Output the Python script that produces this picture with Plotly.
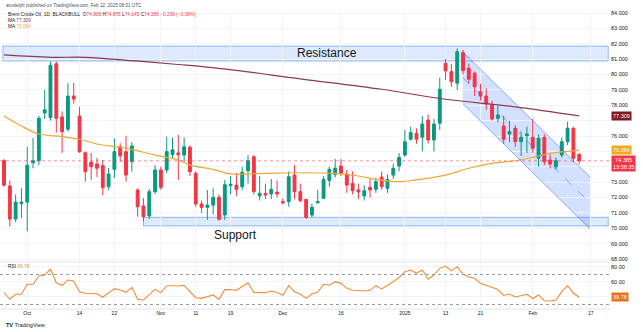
import plotly.graph_objects as go

# ---------------- data ----------------
opens = [74.4, 72.75, 70.6, 71.6, 71.7, 74.26, 74.39, 77.5, 77.2, 80.7,
         77.24, 76.44, 78.6, 77.3, 74.91, 74.29, 74.18, 74.07, 72.7, 73.83,
         75.3, 74.98, 74.33, 72.49, 71.45, 70.8, 72.38, 73.79, 73.79, 74.8,
         74.9, 74.76, 75.27, 73.57, 71.58, 71.36, 71.51, 72.01, 70.86, 72.77,
         72.81, 72.70, 73.74, 74.65, 72.1, 72.27, 72.23, 72.34, 71.73, 71.73,
         73.46, 72.38, 71.88, 70.86, 71.66, 71.95, 73.1, 73.5, 74.05, 73.53,
         72.92, 72.49, 72.1, 72.66, 72.53, 73.33, 72.6, 73.46, 74.05, 74.76,
         75.79, 76.18, 75.92, 77.04, 75.74, 76.83, 80.73, 80.18, 79.43, 81.42,
         80.4, 80.08, 78.88, 78.6, 78.02, 77.15, 76.65, 76.13, 76.5, 75.63,
         76.02, 75.92, 74.55, 75.92, 74.44, 74.0, 74.76, 75.63, 76.5, 74.805]
highs = [74.5, 73.1, 72.2, 72.6, 75.3, 75.87, 77.3, 79.0, 80.85, 80.85,
         77.6, 79.43, 79.45, 77.9, 75.0, 74.9, 74.57, 74.44, 73.92, 75.85,
         75.53, 76.02, 75.6, 72.6, 71.95, 72.55, 74.1, 74.0, 75.96, 75.9,
         76.07, 75.9, 75.4, 73.7, 71.8, 72.49, 72.6, 72.2, 73.14, 73.4,
         73.6, 74.0, 74.76, 74.76, 73.4, 72.9, 73.2, 73.1, 71.95, 73.7,
         74.1, 72.9, 71.88, 71.6, 72.5, 73.4, 74.0, 74.5, 74.5, 73.8,
         73.7, 72.9, 72.8, 73.2, 73.3, 73.7, 73.5, 74.2, 74.9, 76.39,
         76.6, 76.5, 77.3, 77.4, 77.1, 79.8, 81.0, 80.7, 81.7, 81.6,
         80.7, 80.2, 79.4, 79.1, 78.3, 78.0, 77.3, 77.0, 76.7, 76.3,
         76.6, 77.1, 76.1, 76.1, 74.8, 74.6, 75.9, 76.93, 76.6, 74.875]
lows = [72.7, 70.1, 70.4, 70.65, 69.8, 73.9, 74.1, 77.1, 77.0, 76.2,
        74.9, 76.28, 78.1, 74.9, 73.03, 73.14, 73.33, 72.16, 72.49, 73.27,
        74.33, 73.03, 73.68, 70.75, 70.43, 70.6, 72.2, 72.5, 73.6, 74.5,
        73.14, 74.3, 73.4, 71.4, 71.0, 70.54, 70.9, 70.5, 70.54, 72.2,
        72.1, 72.5, 72.92, 72.2, 71.8, 71.9, 71.9, 72.0, 71.55, 71.4,
        71.9, 71.7, 70.6, 70.7, 71.6, 71.9, 72.7, 73.3, 73.4, 72.3,
        72.2, 71.9, 71.8, 72.0, 72.3, 72.5, 72.3, 73.2, 73.7, 74.65,
        75.7, 75.5, 75.0, 75.5, 75.0, 76.4, 79.64, 79.2, 78.99, 80.0,
        79.4, 78.6, 78.3, 77.7, 77.0, 76.9, 75.5, 75.6, 75.3, 74.7,
        74.9, 74.9, 74.0, 74.1, 73.9, 73.8, 74.6, 75.41, 74.3, 74.145]
closes = [72.8, 70.6, 71.7, 71.7, 74.1, 74.39, 77.15, 77.7, 80.6, 77.15,
          76.28, 78.6, 78.4, 74.98, 73.68, 74.0, 73.9, 72.64, 73.53, 74.98,
          74.7, 73.46, 75.35, 71.4, 70.75, 72.38, 73.79, 72.66, 74.98, 75.1,
          74.78, 75.3, 73.68, 71.58, 71.36, 71.5, 72.01, 70.58, 72.83, 72.86,
          72.53, 73.64, 74.39, 72.38, 72.27, 72.16, 72.53, 72.23, 71.66, 73.35,
          72.38, 71.79, 70.71, 71.36, 71.73, 73.18, 73.83, 73.9, 73.57, 72.81,
          72.44, 72.36, 72.44, 72.49, 73.03, 72.70, 73.18, 73.90, 74.61, 75.63,
          76.22, 75.79, 76.78, 75.74, 76.78, 79.04, 80.23, 79.53, 81.48, 80.25,
          79.69, 79.21, 78.6, 78.08, 77.1, 77.37, 75.79, 76.28, 75.63, 75.92,
          76.13, 75.2, 75.85, 74.33, 74.18, 74.39, 75.63, 76.5, 74.55, 74.385]

ma_long_idx = [0, 8, 14, 22, 30, 37, 51, 65, 76, 88, 99]
ma_long_val = [81.27, 81.12, 81.12, 80.9, 80.65, 80.4, 79.72, 79.04, 78.39, 77.9, 77.309]
ma_short_idx = [0, 3, 6, 10, 13, 16, 20, 22, 26, 30, 32, 36, 39, 45, 51, 57, 61,
                64, 68, 70, 76, 80, 84, 88, 91, 94, 99]
ma_short_val = [77.3, 76.65, 76.13, 75.96, 75.79, 75.48, 75.27, 75.13, 74.76, 74.44,
                74.11, 73.83, 73.53, 73.57, 73.61, 73.57, 73.4, 73.18, 73.03, 73.1,
                73.46, 73.9, 74.22, 74.39, 74.61, 74.87, 75.084]

rsi = [46, 37, 43.6, 43.6, 57, 57, 68, 69.3, 77, 59,
       55.6, 62.7, 61.3, 47, 45, 44.7, 44.4, 39.6, 44.9, 51.1,
       49.3, 46.2, 52.9, 36.9, 36, 43.6, 50.2, 45.8, 55.1, 55.1,
       54.7, 55.6, 47, 39.1, 38.2, 40, 42.7, 36.9, 49.8, 50,
       48.9, 54, 59.1, 46.2, 46.5, 45.8, 48, 46, 42.2, 55.1,
       47, 44, 38.2, 44, 46.7, 56.9, 55.6, 60.4, 58.2, 51.6,
       49, 48, 48, 48.9, 55.1, 50.7, 55, 60.4, 66, 73.8,
       76, 71.6, 76, 63.6, 69.3, 78.2, 81.3, 75.1, 80.4, 70.2,
       67, 64.9, 58.2, 55.5, 52.9, 50, 42, 44, 40, 42,
       43.6, 38, 42.7, 35, 34.7, 36, 47.1, 55.1, 44.9, 39.78]

tick_pos = [4, 13, 19, 27, 33, 39, 48, 58, 69, 76, 82, 91, 101]
tick_text = ["Oct", "14", "22", "Nov", "11", "19", "Dec", "16", "2025", "13", "21", "Feb", "17"]
price_ticks = list(range(68, 85))
price_hidden = [74, 75, 77]          # covered by the value tags in the picture
rsi_ticks = [80, 60, 40]
rsi_hidden = [40]

resistance = (80.88, 81.85)
support = (70.15, 70.71)
channel_idx = (78.95, 100.86)
channel_top = (81.48, 73.33)
channel_mid = (79.8, 71.64)
channel_bot = (78.11, 69.95)

last_close = 74.385
last_ma_long = 77.309
last_ma_short = 75.084
last_rsi = 39.78

# ---------------- styling ----------------
UP = "#089981"
DN = "#F23645"
MA_LONG_C = "#8C3A48"
MA_SHORT_C = "#F0A830"
RSI_C = "#F28C38"
GRID = "#f0f3fa"
TXT = "#131722"
FONT = "Liberation Sans, Arial, sans-serif"

xs = list(range(len(closes)))
XR = [-0.69, 104.3]
PR = [67.805, 84.195]
RR = [24, 86.67]
SPLIT = 0.1572

fig = go.Figure()
fig.add_trace(go.Candlestick(
    x=xs, open=opens, high=highs, low=lows, close=closes,
    increasing=dict(line=dict(color=UP, width=1), fillcolor=UP),
    decreasing=dict(line=dict(color=DN, width=1), fillcolor=DN),
    whiskerwidth=0, showlegend=False, hoverinfo="skip", xaxis="x", yaxis="y"))
fig.add_trace(go.Scatter(x=ma_long_idx, y=ma_long_val, mode="lines",
                         line=dict(color=MA_LONG_C, width=1.2, shape="spline"),
                         showlegend=False, hoverinfo="skip", xaxis="x", yaxis="y"))
fig.add_trace(go.Scatter(x=ma_short_idx, y=ma_short_val, mode="lines",
                         line=dict(color=MA_SHORT_C, width=1.2, shape="spline"),
                         showlegend=False, hoverinfo="skip", xaxis="x", yaxis="y"))
fig.add_trace(go.Scatter(x=xs, y=rsi, mode="lines",
                         line=dict(color=RSI_C, width=1.1),
                         showlegend=False, hoverinfo="skip", xaxis="x2", yaxis="y2"))

shapes = []
shapes.append(dict(type="rect", xref="x", yref="y", x0=-0.2, x1=104, y0=resistance[0], y1=resistance[1],
                   fillcolor="rgba(66,133,244,0.18)", line=dict(color="rgba(66,133,244,0.55)", width=1), layer="below"))
shapes.append(dict(type="rect", xref="x", yref="y", x0=24, x1=104, y0=support[0], y1=support[1],
                   fillcolor="rgba(66,133,244,0.18)", line=dict(color="rgba(66,133,244,0.55)", width=1), layer="below"))
x0c, x1c = channel_idx
shapes.append(dict(type="path", xref="x", yref="y",
                   path=f"M {x0c},{channel_top[0]} L {x1c},{channel_top[1]} L {x1c},{channel_bot[1]} L {x0c},{channel_bot[0]} Z",
                   fillcolor="rgba(41,98,255,0.2)", line=dict(width=0), layer="below"))
for (a, b), dash in ((channel_top, "solid"), (channel_bot, "solid"), (channel_mid, "dash")):
    shapes.append(dict(type="line", xref="x", yref="y", x0=x0c, x1=x1c, y0=a, y1=b,
                       line=dict(color="rgba(41,98,255,0.5)", width=1, dash=dash)))
shapes.append(dict(type="line", xref="paper", yref="y", x0=0, x1=1, y0=last_close, y1=last_close,
                   line=dict(color="rgba(242,54,69,0.55)", width=1, dash="dot")))
for lvl in (70, 30):
    shapes.append(dict(type="line", xref="paper", yref="y2", x0=0, x1=1, y0=lvl, y1=lvl,
                       line=dict(color="#9598a1", width=1, dash="dot")))
shapes.append(dict(type="line", xref="paper", yref="paper", x0=0, x1=1, y0=SPLIT, y1=SPLIT,
                   line=dict(color="#e0e3eb", width=1)))
shapes.append(dict(type="line", xref="paper", yref="paper", x0=0, x1=1, y0=0, y1=0,
                   line=dict(color="#e0e3eb", width=1)))

ann = []
def txt(x, y, t, size=4.8, xref="paper", yref="paper", color=TXT, **kw):
    d = dict(x=x, y=y, xref=xref, yref=yref, text=t, showarrow=False,
             font=dict(size=size, color=color, family=FONT), xanchor="left", yanchor="middle")
    d.update(kw)
    ann.append(d)

H = 299.0
txt(4 / 643, 1 + 5 / H, "aruslelph published on TradingView.com, Feb 12, 2025 08:01 UTC", size=4.6, color="#4a4e59")
r = DN
txt(6 / 643, 1 - 5 / H,
    f"Brent Crude Oil, 1D, BLACKBULL  O<span style='color:{r}'>74.805</span> H<span style='color:{r}'>74.875</span> "
    f"L<span style='color:{r}'>74.145</span> C<span style='color:{r}'>74.385</span> <span style='color:{r}'>−0.290 (−0.39%)</span>")
txt(6 / 643, 1 - 11 / H, f"MA <span style='color:{MA_LONG_C}'>77.309</span>")
txt(6 / 643, 1 - 16.7 / H, f"MA <span style='color:{MA_SHORT_C}'>75.084</span>")
txt(6 / 643, SPLIT - 5 / H, f"RSI <span style='color:{RSI_C}'>39.78</span>")

txt(55.6, 81.37, "Resistance", size=12, xref="x", yref="y", xanchor="center")
txt(39.8, 69.56, "Support", size=12, xref="x", yref="y", xanchor="center")

def axlabel(y, t, bg, yref="y", fc="white"):
    ann.append(dict(x=1, y=y, xref="paper", yref=yref, text=t, showarrow=False, xanchor="left",
                    yanchor="middle", xshift=1, bgcolor=bg, borderpad=1,
                    font=dict(size=5.5, color=fc, family=FONT)))
axlabel(last_ma_long, "77.309", "#801922")
axlabel(last_ma_short, "75.084", "#F2A81D")
axlabel(last_close - 0.2, "74.385<br>13:58:35", DN)
axlabel(last_rsi, "39.78", "#E8711C", yref="y2")

ann.append(dict(x=4 / 643, y=-16 / H, xref="paper", yref="paper", showarrow=False, xanchor="left",
                yanchor="middle", text="<b>TV</b> TradingView", font=dict(size=5.5, color=TXT, family=FONT)))

fig.update_layout(
    width=643, height=332, margin=dict(l=0, r=33, t=10, b=23),
    paper_bgcolor="white", plot_bgcolor="white", showlegend=False,
    shapes=shapes, annotations=ann, hovermode=False,
    xaxis=dict(domain=[0, 1], range=XR, anchor="y", showticklabels=False, tickvals=tick_pos,
               showgrid=True, gridcolor=GRID, zeroline=False, rangeslider=dict(visible=False), fixedrange=True),
    xaxis2=dict(domain=[0, 1], range=XR, anchor="y2", tickvals=tick_pos, ticktext=tick_text,
                showgrid=True, gridcolor=GRID, zeroline=False, ticks="",
                tickfont=dict(size=5, color=TXT, family=FONT)),
    yaxis=dict(domain=[SPLIT, 1], range=PR, side="right", tickvals=price_ticks,
               ticktext=["" if v in price_hidden else f"{v:.3f}" for v in price_ticks],
               showgrid=True, gridcolor=GRID,
               zeroline=False, ticks="", tickfont=dict(size=5.5, color=TXT, family=FONT)),
    yaxis2=dict(domain=[0, SPLIT], range=RR, side="right", tickvals=rsi_ticks,
                ticktext=["" if v in rsi_hidden else f"{v:.2f}" for v in rsi_ticks],
                showgrid=True, gridcolor=GRID,
                zeroline=False, ticks="", tickfont=dict(size=5.5, color=TXT, family=FONT)),
)

fig.write_html("out.html")
